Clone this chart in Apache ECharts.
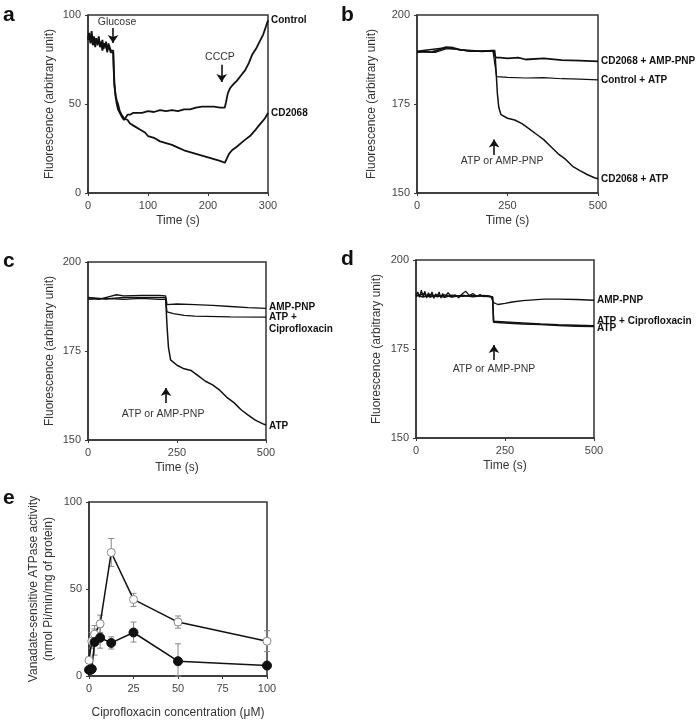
<!DOCTYPE html>
<html><head><meta charset="utf-8">
<script src="https://cdn.jsdelivr.net/npm/echarts@6/dist/echarts.min.js"></script>
<style>html,body{margin:0;padding:0;background:#fff}#c{width:697px;height:722px}</style>
</head><body><div id="c"></div>
<script>
// ---- Panel a: time (s), fluorescence ----
const aControl = [[0,87],[2,89],[4,86],[6,91],[8,85],[10,88],[12,84],[14,87],[16,83],[18,86],[20,85],[22,82],[24,86],[26,81],[28,84],[30,83],[32,80],[34,84],[36,82],[38,80],[40,81],[42,80],[43,70],[44,62],[46,54],[48,50],[50,47],[53,45],[56,43],[60,41],[63,42],[66,44],[70,44],[75,45],[80,45],[90,45],[100,46],[110,45.5],[120,46.5],[130,46],[140,46.5],[150,46],[160,47],[170,47],[180,48],[190,48.5],[200,48.5],[210,48.5],[220,48],[228,48],[230,51],[233,56],[237,59],[242,61],[248,63],[255,66],[262,69],[268,73],[274,78],[280,81],[286,85],[292,89],[296,93],[300,97]];
const aCD2068 = [[0,86],[2,90],[4,84],[6,89],[8,83],[10,87],[12,82],[14,86],[16,84],[18,88],[20,82],[22,85],[24,80],[26,84],[28,82],[30,85],[32,79],[34,83],[36,81],[38,79],[40,80],[42,79],[43,68],[44,60],[46,55],[48,52],[50,50],[53,46],[56,44],[60,42],[63,41],[66,41],[70,39],[75,38],[80,37],[85,36],[90,35],[95,34],[100,32],[110,31],[120,29],[130,28],[140,27],[150,25.5],[160,24],[170,23],[180,22],[190,21],[200,20],[210,19],[220,18],[228,17],[231,19],[235,22],[240,24],[248,26],[255,28],[262,30],[270,32],[278,35],[285,38],[290,40],[295,42],[300,45]];
// ---- Panel b ----
const bCDAmp = [[0,189.5],[20,189.8],[40,189.6],[60,190.2],[80,191],[100,190.8],[120,190.2],[150,190],[180,189.8],[210,190],[215,189.8],[218,188],[230,188],[250,187.8],[280,188],[300,187.5],[350,187.8],[400,187.3],[450,187.2],[500,187]];
const bCtrlAtp = [[0,189.6],[50,189.5],[80,190.5],[100,190.5],[150,189.8],[210,189.8],[215,189.7],[220,182.7],[250,182.5],[300,182.3],[350,182.4],[400,182.1],[450,182],[500,181.8]];
const bCDAtp = [[0,189.8],[80,190.8],[150,189.8],[215,190],[218,185],[222,178],[226,174],[232,172],[250,171],[270,170.5],[290,169.5],[310,168],[330,166.5],[350,165],[370,163],[390,161],[410,159.5],[430,157.5],[450,156.3],[470,155.2],[490,154.3],[500,154]];
// ---- Panel c ----
const cAmp = [[0,190],[30,189.5],[60,190.3],[80,190.8],[100,190.5],[150,190.6],[200,190.6],[218,190.5],[222,188],[250,188.2],[300,188],[350,187.8],[400,187.5],[450,187.2],[500,187]];
const cAtpCipro = [[0,189.5],[50,189.8],[100,189.5],[150,189.8],[200,189.5],[218,189.5],[222,186],[240,185.5],[270,185],[300,184.8],[400,184.6],[500,184.5]];
const cAtp = [[0,190],[50,189.6],[100,190],[150,190],[200,190],[218,190],[222,182],[226,176],[232,172.5],[250,171],[270,170],[290,169.5],[310,168],[330,166.5],[350,165.5],[370,164],[390,162],[410,160.5],[430,158.5],[450,157],[470,155.6],[490,154.6],[500,154.2]];
// ---- Panel d ----
const dAmp = [[0,190],[5,191],[10,189.5],[15,191.5],[20,189.8],[25,191.2],[30,189.3],[35,190.8],[40,189.5],[45,191],[50,189.2],[55,190.5],[60,189.8],[65,191],[70,189.3],[75,190.6],[80,189.5],[90,190.8],[100,189.6],[110,190.2],[120,189.4],[130,190.5],[140,191.2],[150,190],[160,190.6],[170,189.8],[180,190.3],[190,189.7],[200,190],[210,189.8],[215,189.7],[218,188],[230,187.5],[250,187.8],[270,188.2],[300,188.6],[330,188.8],[360,189],[400,189],[450,188.9],[500,188.7]];
const dAtpCipro = [[0,189.8],[20,190.5],[40,189.6],[60,190.2],[80,189.5],[100,190.1],[130,189.8],[160,190],[190,189.8],[215,189.7],[218,182.8],[250,182.6],[300,182.3],[350,182],[400,181.8],[450,181.7],[500,181.5]];
const dAtp = [[0,190.2],[20,189.6],[40,190.3],[60,189.7],[80,190.2],[100,189.6],[130,190.1],[160,189.7],[190,190],[215,189.6],[218,182.5],[250,182.3],[300,182],[350,181.9],[400,181.6],[450,181.4],[500,181.3]];
// ---- Panel e ----
const eOpen = [[0,9],[1.56,20],[3.125,24],[6.25,30],[12.5,71],[25,44],[50,31],[100,20]];
const eOpenErr = [[0,8,10],[1.56,16,25],[3.125,19,29],[6.25,25,35],[12.5,63,79],[25,40,47.5],[50,27.5,34.5],[100,14,26]];
const eFilled = [[0,3.5],[0.78,3.5],[1.56,4],[3.125,19.5],[6.25,22],[12.5,19],[25,25],[50,8.5],[100,6]];
const eFilledErr = [[1.56,2,6],[3.125,12,27],[6.25,16,28],[12.5,15.5,22.5],[25,19.5,31],[50,0,18.5],[100,5,7]];

const FONT = "'Liberation Sans', Arial, sans-serif";
const chart = echarts.init(document.getElementById('c'), null, {renderer:'canvas'});

const grids = [
  {left:88, top:15, width:180, height:178},
  {left:417, top:15, width:181, height:178},
  {left:88, top:262, width:178, height:178},
  {left:416, top:260, width:178, height:178},
  {left:89, top:502, width:178, height:174}
].map(g => Object.assign({show:true, borderColor:'#333', borderWidth:1.5, backgroundColor:'transparent', containLabel:false}, g));

function xAx(i, max, interval, name, gap){
  return {gridIndex:i, type:'value', min:0, max:max, interval:interval,
    name:name, nameLocation:'middle', nameGap:gap,
    nameTextStyle:{fontFamily:FONT, fontSize:12, color:'#333'},
    axisLine:{show:true, onZero:false, lineStyle:{color:'#333', width:1.5}},
    axisTick:{show:true, length:3, lineStyle:{color:'#333'}},
    axisLabel:{fontFamily:FONT, fontSize:11, color:'#444', margin:7},
    splitLine:{show:false}};
}
function yAx(i, min, max, interval, name, gap){
  return {gridIndex:i, type:'value', min:min, max:max, interval:interval,
    name:name, nameLocation:'middle', nameGap:gap,
    nameTextStyle:{fontFamily:FONT, fontSize:12, color:'#333', lineHeight:15},
    axisLine:{show:true, lineStyle:{color:'#333', width:1.5}},
    axisTick:{show:true, length:3, lineStyle:{color:'#333'}},
    axisLabel:{fontFamily:FONT, fontSize:11, color:'#444', margin:7},
    splitLine:{show:false}};
}
const FL = 'Fluorescence (arbitrary unit)';
const xAxes = [xAx(0,300,100,'Time (s)',22), xAx(1,500,250,'Time (s)',22), xAx(2,500,250,'Time (s)',22), xAx(3,500,250,'Time (s)',22), xAx(4,100,25,'Ciprofloxacin concentration (\u03bcM)',31)];
const yAxes = [yAx(0,0,100,50,FL,31), yAx(1,150,200,25,FL,38), yAx(2,150,200,25,FL,31), yAx(3,150,200,25,FL,32), yAx(4,0,100,50,'Vanadate-sensitive ATPase activity\n(nmol Pi/min/mg of protein)',33)];

function line(i, data, label, w, off, extra){
  return Object.assign({type:'line', xAxisIndex:i, yAxisIndex:i, data:data, symbol:'none', showSymbol:false,
    lineStyle:{color:'#111', width:w}, animation:false, silent:true,
    endLabel:{show:!!label, formatter:label, fontFamily:FONT, fontSize:10, fontWeight:'bold', color:'#111', distance:3, offset:off||[0,0], lineHeight:12}
  }, extra||{});
}
function arrow(x, yFrom, yTo){
  return [{coord:[x,yFrom]},{coord:[x,yTo]}];
}
function marks(arrows, texts){
  return {
    markLine:{silent:true, animation:false, symbol:['none','arrow'], symbolSize:8, label:{show:false},
      lineStyle:{color:'#111', width:1.6, type:'solid'}, data:arrows.map(a=>arrow(a[0],a[1],a[2]))},
    markPoint:{silent:true, animation:false, symbol:'rect', symbolSize:0,
      label:{show:true, position:'inside', formatter:'{b}', fontFamily:FONT, fontSize:10.5, color:'#333'},
      data:texts.map(t=>({name:t[0], coord:[t[1],t[2]]}))}
  };
}
function errBars(i, data){
  return {type:'custom', xAxisIndex:i, yAxisIndex:i, data:data, silent:true, animation:false, z:1,
    encode:{x:0, y:[1,2]},
    renderItem:function(params, api){
      const lo = api.coord([api.value(0), api.value(1)]);
      const hi = api.coord([api.value(0), api.value(2)]);
      const hw = 3;
      const st = {stroke:'#888', lineWidth:1};
      return {type:'group', children:[
        {type:'line', shape:{x1:lo[0], y1:lo[1], x2:hi[0], y2:hi[1]}, style:st},
        {type:'line', shape:{x1:lo[0]-hw, y1:lo[1], x2:lo[0]+hw, y2:lo[1]}, style:st},
        {type:'line', shape:{x1:hi[0]-hw, y1:hi[1], x2:hi[0]+hw, y2:hi[1]}, style:st}
      ]};
    }};
}

const series = [
  line(0, aControl, 'Control', 1.8, [0,0], marks([[41.7,92.7,84.3],[222.8,72,62.4]], [['Glucose',48.3,96],['CCCP',220,76.4]])),
  line(0, aCD2068, 'CD2068', 1.8),
  line(1, bCDAmp, 'CD2068 + AMP-PNP', 1.8, [0,0], marks([[213,160.7,165]], [['ATP or AMP-PNP',235,159]])),
  line(1, bCtrlAtp, 'Control + ATP', 1.2),
  line(1, bCDAtp, 'CD2068 + ATP', 1.5),
  line(2, cAmp, 'AMP-PNP', 1.3, [0,-1], marks([[219,160.4,164.6]], [['ATP or AMP-PNP',211,157.3]])),
  line(2, cAtpCipro, 'ATP +\nCiprofloxacin', 1.3, [0,6]),
  line(2, cAtp, 'ATP', 1.5, [0,1]),
  line(3, dAmp, 'AMP-PNP', 1.3, [0,0], marks([[219,171.9,176.1]], [['ATP or AMP-PNP',219,169.4]])),
  line(3, dAtpCipro, 'ATP + Ciprofloxacin', 1.5, [0,-5]),
  line(3, dAtp, 'ATP', 1.5, [0,2]),
  errBars(4, eOpenErr),
  errBars(4, eFilledErr),
  {type:'line', xAxisIndex:4, yAxisIndex:4, data:eOpen, symbol:'circle', symbolSize:8, showSymbol:true, animation:false, silent:true, z:3,
    lineStyle:{color:'#111', width:1.5}, itemStyle:{color:'#fff', borderColor:'#888', borderWidth:1}},
  {type:'line', xAxisIndex:4, yAxisIndex:4, data:eFilled, symbol:'circle', symbolSize:9, showSymbol:true, animation:false, silent:true, z:3,
    lineStyle:{color:'#111', width:1.5}, itemStyle:{color:'#111', borderColor:'#111', borderWidth:1}}
];

const letters = [['a',3,5],['b',341,5],['c',3,251],['d',341,249],['e',3,488]];
chart.setOption({
  animation:false,
  backgroundColor:'#fff',
  textStyle:{fontFamily:FONT},
  grid:grids, xAxis:xAxes, yAxis:yAxes, series:series,
  graphic:letters.map(l=>({type:'text', left:l[1], top:l[2], style:{text:l[0], font:"bold 21px 'Liberation Sans', Arial, sans-serif", fill:'#111'}}))
});
</script></body></html>
